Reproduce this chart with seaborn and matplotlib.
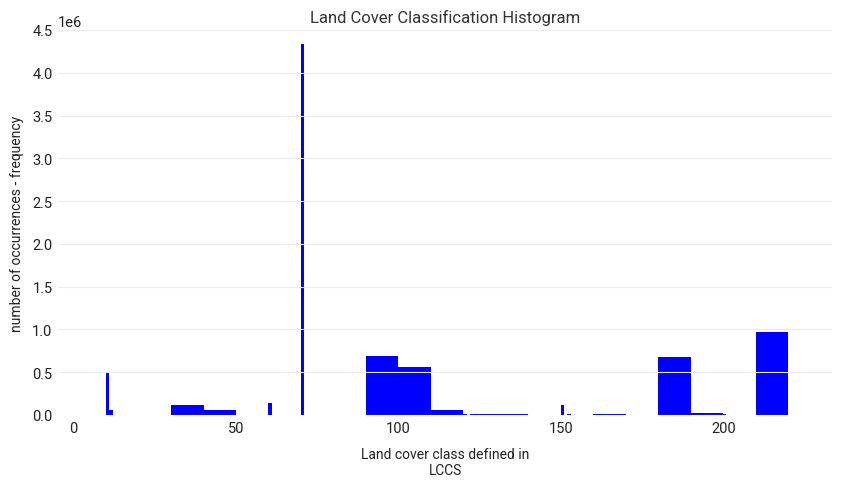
import matplotlib
matplotlib.use("Agg")
import matplotlib.pyplot as plt
import seaborn as sns
import pandas as pd

# LCCS land cover classes present and their pixel counts
classes = [10, 11, 30, 40, 60, 70, 90, 100, 110, 120, 122, 130,
           150, 152, 160, 180, 190, 200, 210]
counts = [490000, 55000, 117000, 58000, 140000, 4340000, 690000, 560000,
          58000, 10000, 14000, 14000, 120000, 10000, 14000, 680000,
          25000, 12000, 970000]
# bin edges = LCCS class codes
bin_edges = [0, 10, 11, 12, 20, 30, 40, 50, 60, 61, 62, 70, 71, 72, 80, 81,
             82, 90, 100, 110, 120, 121, 122, 130, 140, 150, 151, 152, 153,
             160, 170, 180, 190, 200, 201, 202, 210, 220]

df = pd.DataFrame({"lccs": classes, "count": counts})

sns.set_style("white")
plt.rcParams["font.family"] = ["Roboto", "DejaVu Sans"]

fig = plt.figure(figsize=(8.43, 4.85), dpi=100)
ax = fig.add_axes([58 / 843, 69 / 485, (832 - 58) / 843, (416 - 31) / 485])

sns.histplot(data=df, x="lccs", weights="count", bins=bin_edges,
             color="#0000ff", alpha=1, linewidth=0, ax=ax)

ax.set_xlim(-4.8, 233.5)
ax.set_ylim(0, 4.5e6)
ax.set_yticks([i * 0.5e6 for i in range(10)])
ax.set_xticks([0, 50, 100, 150, 200])
ax.grid(axis="y", color="#ebebeb", linewidth=0.8)
ax.grid(axis="x", visible=False)
ax.set_axisbelow(False)
for s in ax.spines.values():
    s.set_visible(False)
ax.tick_params(axis="both", length=0, labelsize=10.5, colors="#222222", pad=4)

ax.set_title("Land Cover Classification Histogram", fontsize=12, color="#333333", pad=6)
ax.set_xlabel("Land cover class defined in\nLCCS", fontsize=10, color="#222222", labelpad=9, linespacing=1.2)
ax.set_ylabel("number of occurrences - frequency", fontsize=10, color="#222222", labelpad=6)
ax.yaxis.get_offset_text().set_fontsize(10.5)

fig.savefig("out.png", dpi=100)
